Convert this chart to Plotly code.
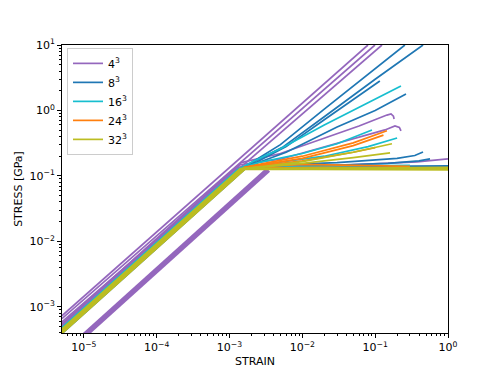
import plotly.graph_objects as go

# ---------------- data (strain, stress in GPa) ----------------
group_labels = ["4<sup>3</sup>", "8<sup>3</sup>", "16<sup>3</sup>", "24<sup>3</sup>", "32<sup>3</sup>"]
group_colors = ["#9467bd", "#1f77b4", "#17becf", "#ff7f0e", "#bcbd22"]

purple_strain = [
    [5e-6, 0.0796],
    [5e-6, 0.0993],
    [5e-6, 0.124],
    [5e-6, 1.45e-3, 5e-3, 0.0175, 0.06, 0.145, 0.165, 0.178, 0.182],
    [5e-6, 1.4e-3, 5e-3, 0.014, 0.05, 0.136, 0.187, 0.215, 0.226],
    [5e-6, 1.4e-3, 0.0451, 0.375, 1.0],
    [5e-6, 1.35e-3, 1.0],
]
purple_stress = [
    [7.3e-4, 10],
    [6.6e-4, 10],
    [5.9e-4, 10],
    [5.5e-4, 0.16, 0.22, 0.355, 0.58, 0.85, 0.885, 0.82, 0.74],
    [5.25e-4, 0.148, 0.18, 0.249, 0.37, 0.504, 0.579, 0.55, 0.486],
    [4.75e-4, 0.135, 0.147, 0.164, 0.182],
    [5e-4, 0.135, 0.138],
]
thick_strain = [1e-5, 3.4e-3]
thick_stress = [3.6e-4, 0.124]

blue_strain = [
    [5e-6, 1.3e-3, 2.2e-3, 5e-3, 0.02, 0.256],
    [5e-6, 1.35e-3, 2.3e-3, 5.5e-3, 0.02, 0.1, 0.454],
    [5e-6, 1.4e-3, 2.4e-3, 6e-3, 0.02, 0.116],
    [5e-6, 1.45e-3, 2.5e-3, 6e-3, 0.03, 0.1, 0.265],
    [5e-6, 1.55e-3, 3e-3, 0.03, 0.2, 0.35, 0.454],
    [5e-6, 1.65e-3, 0.01, 0.15, 0.4, 0.566],
    [5e-6, 1.7e-3, 0.1, 1.0],
]
blue_stress = [
    [4.6e-4, 0.12, 0.17, 0.3, 1.05, 10],
    [4.5e-4, 0.122, 0.17, 0.28, 0.8, 3.0, 10],
    [4.4e-4, 0.123, 0.165, 0.28, 0.72, 2.82],
    [4.3e-4, 0.125, 0.16, 0.23, 0.56, 1.0, 1.79],
    [4.2e-4, 0.13, 0.145, 0.16, 0.185, 0.205, 0.232],
    [4e-4, 0.132, 0.14, 0.155, 0.17, 0.182],
    [3.9e-4, 0.133, 0.14, 0.142],
]

cyan_strain = [
    [5e-6, 1.3e-3, 2.2e-3, 5e-3, 0.02, 0.226],
    [5e-6, 1.35e-3, 2.5e-3, 0.01, 0.03, 0.0904],
    [5e-6, 1.4e-3, 3e-3, 0.02, 0.08, 0.2],
    [5e-6, 1.45e-3, 0.01, 0.3],
]
cyan_stress = [
    [4.8e-4, 0.125, 0.17, 0.26, 0.6, 2.37],
    [4.7e-4, 0.127, 0.16, 0.22, 0.31, 0.504],
    [4.6e-4, 0.128, 0.15, 0.2, 0.28, 0.38],
    [4.5e-4, 0.13, 0.14, 0.145],
]

orange_strain = [
    [5e-6, 1.6e-3, 3e-3, 0.01, 0.05, 0.145],
    [5e-6, 1.6e-3, 3e-3, 0.01, 0.05, 0.13],
    [5e-6, 1.6e-3, 3e-3, 0.01, 0.05, 0.1],
    [5e-6, 1.65e-3, 0.01, 0.3],
    [5e-6, 1.65e-3, 0.02, 1.0],
]
orange_stress = [
    [4.25e-4, 0.136, 0.155, 0.2, 0.32, 0.49],
    [4.2e-4, 0.134, 0.15, 0.185, 0.29, 0.42],
    [4.15e-4, 0.133, 0.145, 0.17, 0.23, 0.27],
    [4.1e-4, 0.135, 0.15, 0.14],
    [4.05e-4, 0.132, 0.135, 0.13],
]

olive_strain = [
    [5e-6, 1.5e-3, 3e-3, 0.01, 0.05, 0.17],
    [5e-6, 1.55e-3, 3e-3, 0.01, 0.05, 0.16],
    [5e-6, 1.4e-3, 1.0],
    [5e-6, 1.45e-3, 1.0],
    [5e-6, 1.5e-3, 1.0],
    [5e-6, 1.55e-3, 1.0],
    [5e-6, 1.6e-3, 0.7],
    [5e-6, 1.65e-3, 1.0],
]
olive_stress = [
    [4.3e-4, 0.129, 0.14, 0.165, 0.23, 0.31],
    [4.2e-4, 0.13, 0.137, 0.155, 0.19, 0.225],
    [4.6e-4, 0.129, 0.133],
    [4.4e-4, 0.128, 0.128],
    [4.25e-4, 0.127, 0.124],
    [4.1e-4, 0.127, 0.127],
    [4e-4, 0.128, 0.13],
    [3.9e-4, 0.128, 0.135],
]

x_major = [1e-5, 1e-4, 1e-3, 1e-2, 1e-1, 1e0]
x_labels = ["10<sup>\u22125</sup>", "10<sup>\u22124</sup>", "10<sup>\u22123</sup>",
            "10<sup>\u22122</sup>", "10<sup>\u22121</sup>", "10<sup>0</sup>"]
y_major = [1e-3, 1e-2, 1e-1, 1e0, 1e1]
y_labels = ["10<sup>\u22123</sup>", "10<sup>\u22122</sup>", "10<sup>\u22121</sup>",
            "10<sup>0</sup>", "10<sup>1</sup>"]

# ---------------- figure ----------------
fig = go.Figure()

groups = [
    (purple_strain, purple_stress),
    (blue_strain, blue_stress),
    (cyan_strain, cyan_stress),
    (orange_strain, orange_stress),
    (olive_strain, olive_stress),
]

for gi, (xs_list, ys_list) in enumerate(groups):
    for ci, (xs, ys) in enumerate(zip(xs_list, ys_list)):
        fig.add_trace(go.Scatter(
            x=xs, y=ys, mode="lines",
            line=dict(color=group_colors[gi], width=1.7),
            name=group_labels[gi],
            showlegend=(ci == 0),
        ))
    if gi == 0:
        fig.add_trace(go.Scatter(
            x=thick_strain, y=thick_stress, mode="lines",
            line=dict(color=group_colors[0], width=5.5),
            showlegend=False,
        ))

def minor_vals(lo, hi):
    vals = []
    for e in range(lo, hi):
        for m in range(2, 10):
            vals.append(m * 10.0 ** e)
    return vals

font_family = "DejaVu Sans"
fig.update_layout(
    width=498, height=374,
    margin=dict(l=62, r=50, t=45, b=41),
    paper_bgcolor="white", plot_bgcolor="white",
    font=dict(family=font_family, size=11, color="black"),
    showlegend=True,
    legend=dict(
        x=0.013, y=0.99, xanchor="left", yanchor="top",
        bgcolor="rgba(255,255,255,0.8)", bordercolor="#cccccc", borderwidth=1,
        font=dict(size=11, family=font_family), traceorder="normal",
        itemwidth=30, tracegroupgap=0,
    ),
)
fig.update_xaxes(
    type="log", range=[-5.3, 0], showgrid=False, zeroline=False, automargin=False,
    showline=True, linecolor="black", linewidth=1, mirror=True,
    ticks="outside", ticklen=4, tickcolor="black",
    tickvals=x_major, ticktext=x_labels,
    minor=dict(ticks="outside", ticklen=2, tickcolor="black", tickvals=minor_vals(-6, 0)),
    title=dict(text="STRAIN", font=dict(size=11), standoff=4),
)
fig.update_yaxes(
    type="log", range=[-3.4, 1], showgrid=False, zeroline=False, automargin=False,
    showline=True, linecolor="black", linewidth=1, mirror=True,
    ticks="outside", ticklen=4, tickcolor="black",
    tickvals=y_major, ticktext=y_labels,
    minor=dict(ticks="outside", ticklen=2, tickcolor="black", tickvals=minor_vals(-4, 1)),
    title=dict(text="STRESS [GPa]", font=dict(size=11), standoff=4),
)

fig.write_html("out.html", config={"displayModeBar": False},
               post_script="document.body.style.margin='0px';")
